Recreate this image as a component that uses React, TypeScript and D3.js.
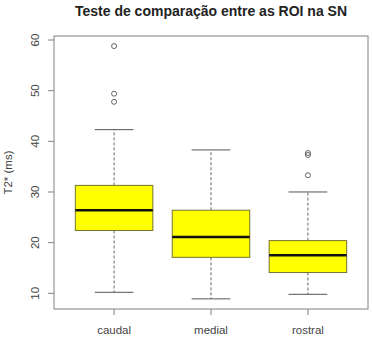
import React from "react";
import * as d3 from "d3";

// Box summaries
const categories = ["caudal", "medial", "rostral"];
const whiskerLow = [10.2, 8.9, 9.8];
const q1 = [22.4, 17.1, 14.1];
const median = [26.4, 21.1, 17.5];
const q3 = [31.3, 26.4, 20.4];
const whiskerHigh = [42.3, 38.3, 30.0];
const outliers = [
  [58.8, 49.4, 47.8],
  [],
  [37.7, 37.3, 33.3],
];
const yTicks = [10, 20, 30, 40, 50, 60];

const W = 372;
const H = 340;
const margin = { top: 36, right: 4, bottom: 31, left: 54 };

export default function App() {
  const x = d3
    .scaleBand()
    .domain(categories)
    .range([margin.left, W - margin.right])
    .paddingInner(0.2)
    .paddingOuter(0.22);

  const y = d3
    .scaleLinear()
    .domain([10, 60])
    .range([293.3, 40]);

  const bw = x.bandwidth();
  const font = "Liberation Sans, Arial, sans-serif";
  const plotBottom = H - margin.bottom;

  return (
    <svg
      width={W}
      height={H}
      style={{ position: "absolute", left: 0, top: 0, fontFamily: font }}
    >
      <rect width={W} height={H} fill="#fff" />
      <text
        x={(margin.left + W - margin.right) / 2}
        y={16}
        textAnchor="middle"
        fontWeight="bold"
        fontSize={14}
        fill="#222"
      >
        Teste de comparação entre as ROI na SN
      </text>

      {/* boxes */}
      {categories.map((c, i) => {
        const x0 = x(c)!;
        const cx = x0 + bw / 2;
        return (
          <g key={c}>
            <line
              x1={cx}
              x2={cx}
              y1={y(q3[i])}
              y2={y(whiskerHigh[i])}
              stroke="#666"
              strokeDasharray="3,2"
            />
            <line
              x1={cx}
              x2={cx}
              y1={y(q1[i])}
              y2={y(whiskerLow[i])}
              stroke="#666"
              strokeDasharray="3,2"
            />
            <line
              x1={cx - bw / 4}
              x2={cx + bw / 4}
              y1={y(whiskerHigh[i])}
              y2={y(whiskerHigh[i])}
              stroke="#555"
            />
            <line
              x1={cx - bw / 4}
              x2={cx + bw / 4}
              y1={y(whiskerLow[i])}
              y2={y(whiskerLow[i])}
              stroke="#555"
            />
            <rect
              x={x0}
              y={y(q3[i])}
              width={bw}
              height={y(q1[i]) - y(q3[i])}
              fill="#ffff00"
              stroke="#74742e"
            />
            <line
              x1={x0}
              x2={x0 + bw}
              y1={y(median[i])}
              y2={y(median[i])}
              stroke="#111"
              strokeWidth={2.5}
            />
            {outliers[i].map((v, j) => (
              <circle
                key={j}
                cx={cx}
                cy={y(v)}
                r={2.5}
                fill="none"
                stroke="#555"
                strokeWidth={0.9}
              />
            ))}
          </g>
        );
      })}

      {/* frame */}
      <rect
        x={margin.left}
        y={margin.top}
        width={W - margin.right - margin.left}
        height={plotBottom - margin.top}
        fill="none"
        stroke="#808080"
      />

      {/* y axis */}
      {yTicks.map((t) => (
        <g key={t}>
          <line
            x1={margin.left - 6}
            x2={margin.left}
            y1={y(t)}
            y2={y(t)}
            stroke="#808080"
          />
          <text
            transform={`translate(${margin.left - 19},${y(t)}) rotate(-90)`}
            textAnchor="middle"
            dy="0.35em"
            fontSize={11.5}
            fill="#444"
          >
            {t}
          </text>
        </g>
      ))}
      <text
        transform={`translate(8,${(margin.top + plotBottom) / 2}) rotate(-90)`}
        textAnchor="middle"
        dy="0.35em"
        fontSize={11.5}
        fill="#444"
      >
        T2* (ms)
      </text>

      {/* x axis */}
      {categories.map((c) => {
        const cx = x(c)! + bw / 2;
        return (
          <g key={c}>
            <line
              x1={cx}
              x2={cx}
              y1={plotBottom}
              y2={plotBottom + 6}
              stroke="#808080"
            />
            <text
              x={cx}
              y={plotBottom + 25}
              textAnchor="middle"
              fontSize={11.5}
              fill="#444"
            >
              {c}
            </text>
          </g>
        );
      })}
    </svg>
  );
}
